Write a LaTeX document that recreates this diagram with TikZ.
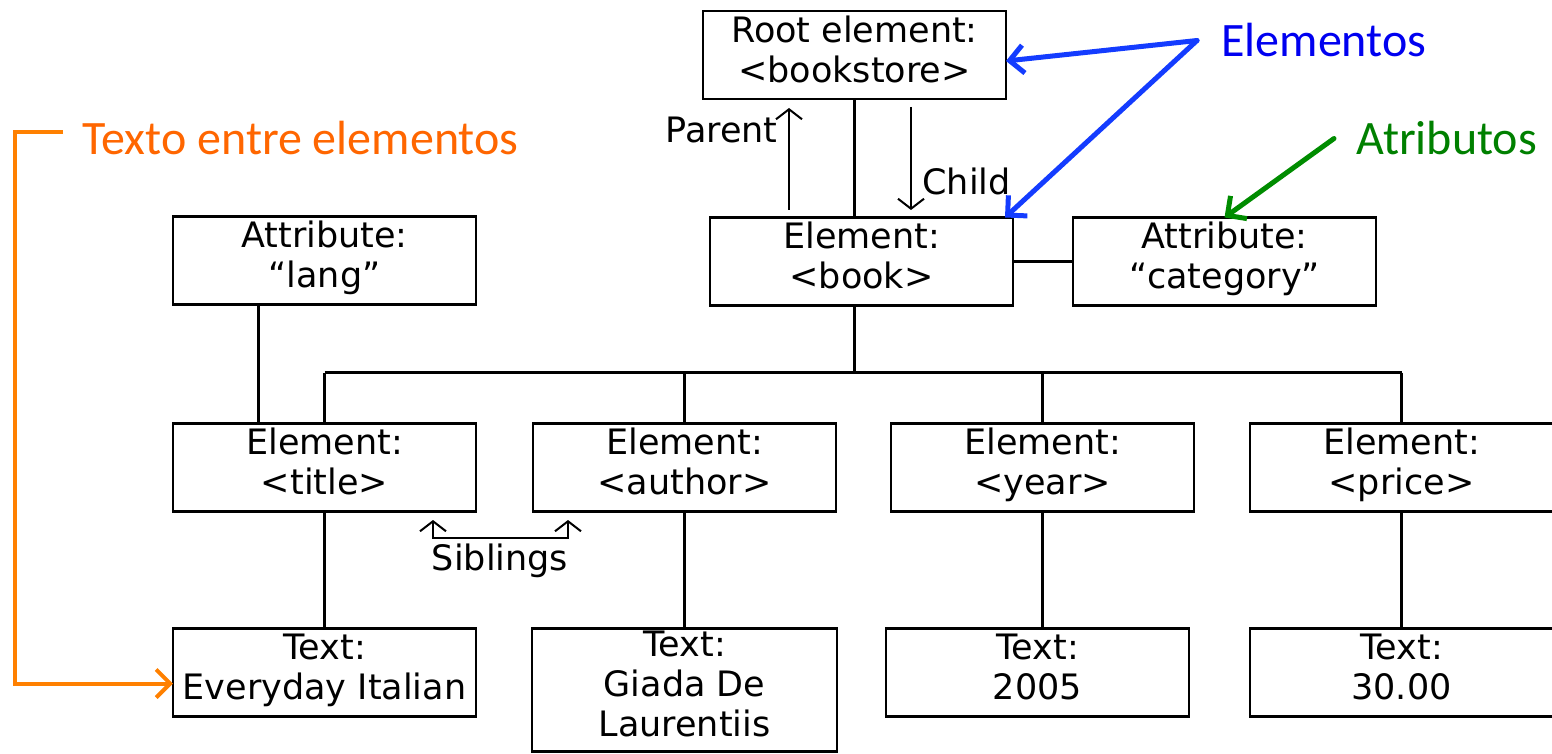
\documentclass[tikz,border=0pt]{standalone}
\usepackage{fontspec}
\setmainfont{DejaVu Sans}
\newfontfamily\notefont{Carlito}
\usepackage{tikz}
\usetikzlibrary{arrows.meta, positioning, calc}
\definecolor{noteorange}{RGB}{255,102,0}
\definecolor{lineorange}{RGB}{255,128,0}
\definecolor{noteblue}{RGB}{0,0,240}
\definecolor{lineblue}{RGB}{20,60,255}
\definecolor{notegreen}{RGB}{0,128,0}
\definecolor{linegreen}{RGB}{0,140,0}

\begin{document}
\begin{tikzpicture}[
    x=0.5pt, y=-0.5pt,
    box/.style={rectangle, draw=black, line width=1.3pt, fill=white,
                minimum width=151.5pt, minimum height=44pt, inner sep=0pt,
                outer sep=0pt, align=center, font=\fontsize{17.5}{20}\selectfont,
                execute at begin node={\rule{0pt}{18pt}}, execute at end node=\strut},
    link/.style={line width=1.3pt},
    rel/.style={line width=1pt, -{Straight Barb[length=5pt, width=13pt]}},
    lbl/.style={font=\fontsize{17.5}{20}\selectfont, inner sep=0pt},
    note/.style={font=\notefont\fontsize{24}{28}\selectfont, inner sep=0pt},
    pointer/.style={line width=2.5pt, line cap=round,
                    -{Straight Barb[length=7pt, width=14pt]}},
]
\useasboundingbox (0,0) rectangle (1552,754);

% tree of the document
\node[box] (root) at (854.5,55) {Root element:\\<bookstore>};
\node[box] (book) at (861.5,261.5) {Element:\\<book>};
\node[box, right=30pt of book] (category) {Attribute:\\“category”};
\node[box] (title) at (324.5,467.5) {Element:\\<title>};
\node[box, above=59.5pt of title] (lang) {Attribute:\\“lang”};
\node[box, right=28.5pt of title] (author) {Element:\\<author>};
\node[box, right=27.5pt of author] (year) {Element:\\<year>};
\node[box, right=28pt of year] (price) {Element:\\<price>};
\node[box, below=58.5pt of title] (italian) {Text:\\Everyday Italian};
\node[box, below=58.5pt of author, minimum height=61.5pt,
      minimum width=152.5pt] (giada) {Text:\\Giada De\\Laurentiis};
\node[box, below=58.5pt of year, xshift=-2.5pt] (y2005) {Text:\\2005};
\node[box, below=58.5pt of price] (p3000) {Text:\\30.00};

\draw[link] (root.south) -- (root.south |- book.north);
\draw[link] (book.east) -- (category.west);
\draw[link] (root.south |- book.south) -- ++(0,67) coordinate (bus);
\draw[link] (bus -| title.north) -- (bus -| price.north);
\foreach \n in {title,author,year,price}
    \draw[link] (bus -| \n.north) -- (\n.north);
\draw[link] ([xshift=-33pt]lang.south) -- ([xshift=-33pt]title.north);
\foreach \a/\b in {title/italian, author/giada, year/y2005, price/p3000}
    \draw[link] (\a.south) -- (\a.south |- \b.north);

% relations
\coordinate (parentfoot) at (789,210);
\coordinate (parenthead) at (789,108);
\coordinate (childtop) at (911,107);
\coordinate (childfoot) at (911,210);
\draw[rel] (parentfoot) -- (parenthead);
\draw[rel] (childtop) -- (childfoot);
\node[lbl, anchor=base east] (parentlbl) at (778,143) {Parent};
\node[lbl, anchor=base west] (childlbl) at (922,195) {Child};

\coordinate (sibA) at (433,520);
\coordinate (sibB) at (568,520);
\draw[rel, {Straight Barb[length=5pt, width=13pt]}-{Straight Barb[length=5pt, width=13pt]}]
    (sibA) -- ++(0,18) -| (sibB);
\node[lbl, anchor=base] (siblbl) at (500,570) {Siblings};

% notes
\node[note, text=noteorange, anchor=base west] (textnote) at (82,155) {Texto entre elementos};
\node[note, text=noteblue, anchor=base west] (elemnote) at (1221,57) {Elementos};
\node[note, text=notegreen, anchor=base west] (attrnote) at (1356,155) {Atributos};

\draw[pointer, lineorange, line width=2pt, line cap=butt]
    ([xshift=-9.5pt, yshift=3.5pt]textnote.west) -- ++(-48,0) |- ([yshift=-5.5pt]italian.west);
\coordinate (elemfork) at ([xshift=-12pt]elemnote.west);
\draw[pointer, lineblue] (elemfork) -- ([yshift=-3pt]root.east);
\draw[pointer, lineblue] (elemfork) -- ([xshift=-4pt]book.north east);
\draw[pointer, linegreen] ([xshift=-11pt]attrnote.west) -- (category.north);

\end{tikzpicture}
\end{document}
